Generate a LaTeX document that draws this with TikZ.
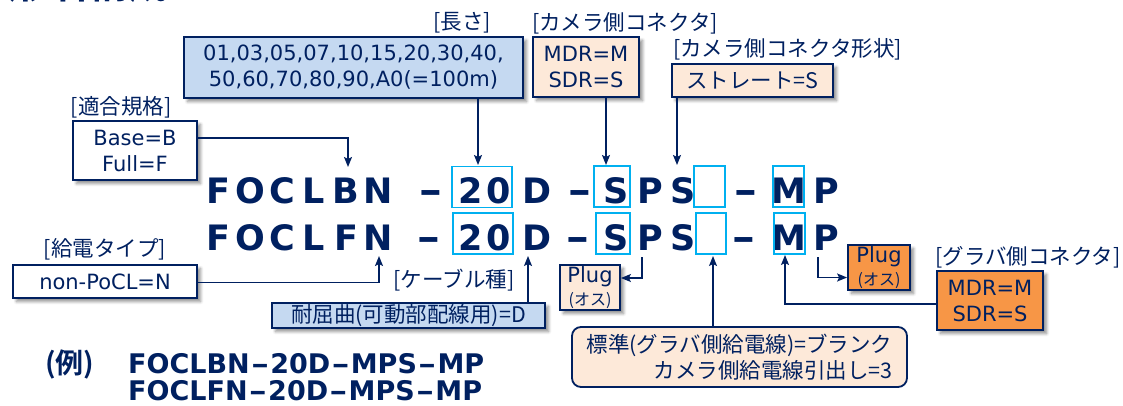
\documentclass[tikz,border=0pt]{standalone}
\usepackage{fontspec}
\setmainfont{DejaVu Sans}
\newfontfamily\jpfont[BoldFont={Noto Sans CJK JP Bold}]{Noto Sans CJK JP}
\usetikzlibrary{arrows.meta,positioning,shadows.blur}

\definecolor{navy}{RGB}{0,32,96}
\definecolor{hlblue}{RGB}{0,176,240}
\definecolor{paleblue}{RGB}{197,217,241}
\definecolor{peach}{RGB}{253,233,217}
\definecolor{orng}{RGB}{247,150,70}

\newcommand\codefont{\fontsize{35}{40}\bfseries\selectfont}
\newcommand\boxfont{\fontsize{21}{26}\selectfont}
\newcommand\jptext{\jpfont\fontsize{21.5}{26}\selectfont}
\newcommand\jpsmall{\jpfont\fontsize{16}{18}\selectfont}
\newcommand\exfont{\fontsize{27}{30}\bfseries\selectfont}
\newcommand\exjp{\jpfont\fontsize{28}{30}\bfseries\selectfont}
\newcommand\titlefont{\jpfont\fontsize{40}{44}\bfseries\selectfont}
\newcommand\bigdash{\scalebox{1.3}[1.1]{–}}
\newcommand\exdash{\kern1.5pt\scalebox{1.3}[1]{–}\kern1.5pt}

\tikzset{
  code/.style={font=\codefont, text=navy, anchor=base, inner sep=0pt},
  hl/.style={draw=hlblue, line width=1.8pt, inner sep=0pt, minimum height=41pt},
  infobox/.style={draw=navy, line width=1.8pt, text=navy, align=center, inner sep=1pt, font=\boxfont},
  shade/.style={blur shadow={shadow xshift=3.5pt, shadow yshift=-3.5pt, shadow blur radius=3pt, shadow blur steps=6, shadow opacity=45}},
  lbl/.style={font=\jptext, text=navy, inner sep=0pt},
  conn/.style={draw=navy, line width=1.5pt, -{Stealth[length=10pt,width=8pt,inset=2pt]}}
}

\begin{document}
\begin{tikzpicture}[x=1pt, y=-1pt]
        \useasboundingbox (0,0) rectangle (1123,405);
        \clip (0,0) rectangle (1123,405);

        % titulo (cortado arriba)
        \node[font=\titlefont, text=navy, anchor=base west, inner sep=0pt] (title) at (8,-1.5) {形名構成};

        % primera fila
        \node[code] (A1) at (218,203) {F};
        \node[code] (A2) at (250,203) {O};
        \node[code] (A3) at (282,203) {C};
        \node[code] (A4) at (314,203) {L};
        \node[code] (A5) at (346,203) {B};
        \node[code] (A6) at (378,203) {N};
        \node[code] (A7) at (431,203) {\bigdash};
        \node[code] (A8) at (471,203) {2};
        \node[code] (A9) at (499,203) {0};
        \node[code] (A10) at (537,203) {D};
        \node[code] (A11) at (580,203) {\bigdash};
        \node[code] (A12) at (616,203) {S};
        \node[code] (A13) at (650,203) {P};
        \node[code] (A14) at (683,203) {S};
        \node[code] (A15) at (746,203) {\bigdash};
        \node[code] (A16) at (789,203) {M};
        \node[code] (A17) at (826,203) {P};

        % segunda fila
        \node[code] (B1) at (218,250) {F};
        \node[code] (B2) at (250,250) {O};
        \node[code] (B3) at (282,250) {C};
        \node[code] (B4) at (314,250) {L};
        \node[code] (B5) at (346,250) {F};
        \node[code] (B6) at (378,250) {N};
        \node[code] (B7) at (429,250) {\bigdash};
        \node[code] (B8) at (471,250) {2};
        \node[code] (B9) at (499,250) {0};
        \node[code] (B10) at (537,250) {D};
        \node[code] (B11) at (578,250) {\bigdash};
        \node[code] (B12) at (616,250) {S};
        \node[code] (B13) at (650,250) {P};
        \node[code] (B14) at (683,250) {S};
        \node[code] (B15) at (744,250) {\bigdash};
        \node[code] (B16) at (789,250) {M};
        \node[code] (B17) at (826,250) {P};

        % recuadros celestes
        \node[hl, minimum width=60pt] (hA20) at (482,187) {};
        \node[hl, minimum width=36pt] (hAS) at (612,186.5) {};
        \node[hl, minimum width=31pt] (hAE) at (709.5,186.5) {};
        \node[hl, minimum width=31pt] (hAM) at (788.5,186.5) {};
        \node[hl, minimum width=60pt] (hB20) at (483,233.5) {};
        \node[hl, minimum width=34pt] (hBS) at (613,233.5) {};
        \node[hl, minimum width=30pt] (hBE) at (711,233.5) {};
        \node[hl, minimum width=31pt] (hBM) at (789.5,233.5) {};

        % cajas de arriba
        \node[infobox, shade, fill=paleblue, minimum width=339pt, minimum height=61pt] (lenbox) at (353.5,67.5)
            {01,03,05,07,10,15,20,30,40,\\50,60,70,80,90,A0(=100m)};
        \node[infobox, shade, fill=peach, minimum width=106pt, minimum height=60pt] (camconn) at (586,67) {MDR=M\\SDR=S};
        \node[infobox, shade, fill=peach, font=\jptext, minimum width=161pt, minimum height=33pt] (camshape) at (752.5,80.5) {ストレート=S};
        \node[infobox, shade, fill=white, minimum width=124pt, minimum height=59pt] (stdbox) at (135,150.5) {Base=B\\Full=F};

        % cajas de abajo
        \node[infobox, shade, fill=white, minimum width=184pt, minimum height=33pt] (pwrbox) at (105,281.5) {non-PoCL=N};
        \node[infobox, shade, fill=paleblue, font=\jptext, minimum width=273pt, minimum height=25pt] (cablebox) at (408.5,315.5) {耐屈曲(可動部配線用)=D};
        \node[infobox, shade, fill=peach, minimum width=60pt, minimum height=45pt] (plugL) at (590,287.5) {Plug\\[-3pt]{\jpsmall (オス)}};
        \node[infobox, shade, fill=orng, minimum width=62pt, minimum height=45pt] (plugR) at (879,267.5) {Plug\\[-3pt]{\jpsmall (オス)}};
        \node[infobox, shade, fill=orng, minimum width=106pt, minimum height=59pt] (grbconn) at (990,300.5) {MDR=M\\SDR=S};
        \node[infobox, fill=peach, font=\jptext, align=right, rounded corners=9pt, minimum width=335pt, minimum height=60pt] (gcbox) at (739.5,357)
            {標準(グラバ側給電線)=ブランク\\カメラ側給電線引出し=3};

        % etiquetas
        \node[lbl] (lenlbl) at (462,23) {[長さ]};
        \node[lbl, anchor=west] (camlbl) at (532,23) {[カメラ側コネクタ]};
        \node[lbl, anchor=west] (shapelbl) at (673,49) {[カメラ側コネクタ形状]};
        \node[lbl] (stdlbl) at (121,107) {[適合規格]};
        \node[lbl, above=4pt of pwrbox] (pwrlbl) {[給電タイプ]};
        \node[lbl] (cablelbl) at (454,280) {[ケーブル種]};
        \node[lbl] (grblbl) at (1028,257) {[グラバ側コネクタ]};

        % ejemplo
        \node[font=\exjp, text=navy, anchor=base west, inner sep=0pt] (exlbl) at (45,373) {(例)};
        \node[font=\exfont, text=navy, anchor=base west, inner sep=0pt] (ex1) at (128,373) {FOCLBN\exdash20D\exdash MPS\exdash MP};
        \node[font=\exfont, text=navy, anchor=base west, inner sep=0pt] (ex2) at (128,400) {FOCLFN\exdash20D\exdash MPS\exdash MP};

        % puntas de flecha
        \coordinate (tipLen) at (478,165);
        \coordinate (tipCam) at (606,165);
        \coordinate (tipShape) at (677,165);
        \coordinate (tipB) at (348,167);
        \coordinate (tipN) at (379,256);
        \coordinate (tipD) at (528,256);
        \coordinate (tipE) at (713,256);
        \coordinate (tipM) at (785,255);
        \coordinate (srcP1) at (642,257);
        \coordinate (srcP2) at (818,257);

        % flechas hacia arriba de la fila
        \draw[conn] (lenbox.south -| tipLen) -- (tipLen);
        \draw[conn] (camconn.south -| tipCam) -- (tipCam);
        \draw[conn] (camshape.south -| tipShape) -- (tipShape);
        \draw[conn] ([yshift=12.5pt]stdbox.east) -| (tipB);

        % flechas desde abajo
        \draw[conn] ([yshift=-1pt]pwrbox.east) -| (tipN);
        \draw[conn] (cablebox.north -| tipD) -- (tipD);
        \draw[conn] (gcbox.north -| tipE) -- (tipE);
        \draw[conn] ([yshift=-3.5pt]grbconn.west) -| (tipM);
        \draw[conn] (srcP1) |- ([yshift=9.5pt]plugL.east);
        \draw[conn] (srcP2) |- ([yshift=-10pt]plugR.west);

\end{tikzpicture}
\end{document}
